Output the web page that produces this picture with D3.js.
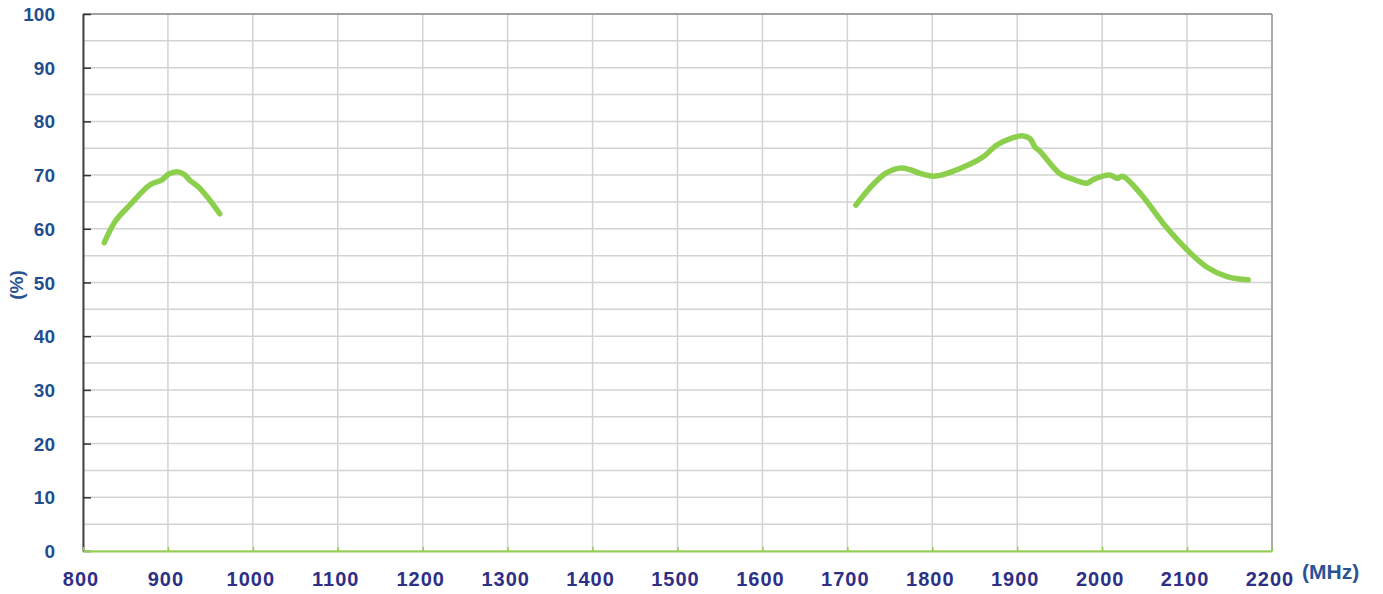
<!DOCTYPE html>
<html lang="en">
  <head>
    <meta charset="UTF-8" />
    <title>Efficiency (%) vs Frequency (MHz)</title>
    <style>
      body { margin: 0; background: #fff; }
      svg { display: block; font-family: "Liberation Sans", Arial, sans-serif; }
    </style>
  </head>
  <body>
    <svg id="chart" width="1383" height="594"></svg>

    <script src="https://d3js.org/d3.v7.min.js"></script>
    <script>
      // low band (MHz, %)
      const lowFreq = [825, 838, 855, 879, 893, 901, 912, 920, 926, 936, 948, 961];
      const lowEff = [57.4, 61.4, 64.4, 68.2, 69.1, 70.2, 70.6, 70.0, 69.0, 67.8, 65.6, 62.8];

      // high band (MHz, %)
      const highFreq = [1710, 1730, 1746, 1762, 1774, 1786, 1801, 1817, 1844, 1860, 1876, 1892,
        1907, 1915, 1921, 1927, 1950, 1966, 1982, 1990, 2009, 2018, 2024, 2045, 2072, 2100,
        2123, 2147, 2172];
      const highEff = [64.4, 68.2, 70.4, 71.3, 71.0, 70.3, 69.8, 70.3, 72.0, 73.4, 75.6, 76.8,
        77.3, 76.8, 75.2, 74.4, 70.3, 69.2, 68.5, 69.2, 70.0, 69.4, 69.8, 66.6, 61.0, 56.1,
        52.9, 51.1, 50.5];

      const xTicks = d3.range(800, 2201, 100);
      const yTicks = d3.range(0, 101, 10);
      const yGrid = d3.range(0, 101, 5);

      const svg = d3.select("#chart");
      const plot = { left: 83, right: 1272, top: 14, bottom: 551 };

      const x = d3.scaleLinear().domain([800, 2200]).range([plot.left, plot.right]);
      const y = d3.scaleLinear().domain([0, 100]).range([plot.bottom, plot.top]);

      // grid
      svg.append("g")
        .selectAll("line")
        .data(yGrid)
        .join("line")
        .attr("x1", plot.left).attr("x2", plot.right)
        .attr("y1", (d) => y(d)).attr("y2", (d) => y(d))
        .attr("stroke", "#d3d3d3")
        .attr("stroke-width", 1.5);

      svg.append("g")
        .selectAll("line")
        .data(xTicks)
        .join("line")
        .attr("x1", (d) => x(d)).attr("x2", (d) => x(d))
        .attr("y1", plot.top).attr("y2", plot.bottom)
        .attr("stroke", "#d3d3d3")
        .attr("stroke-width", 1.5);

      // frame
      svg.append("line")
        .attr("x1", plot.left).attr("x2", plot.right).attr("y1", plot.top).attr("y2", plot.top)
        .attr("stroke", "#8c8c8c").attr("stroke-width", 1.5);
      svg.append("line")
        .attr("x1", plot.right).attr("x2", plot.right).attr("y1", plot.top).attr("y2", plot.bottom)
        .attr("stroke", "#9a9a9a").attr("stroke-width", 1.5);

      // y axis
      const yAxis = svg.append("g")
        .attr("transform", `translate(${plot.left},0)`)
        .call(d3.axisRight(y).tickValues(yTicks).tickSize(8).tickSizeOuter(0).tickFormat(""));
      yAxis.select(".domain").attr("stroke", "#444").attr("stroke-width", 2);
      yAxis.selectAll(".tick line").attr("stroke", "#333").attr("stroke-width", 1.5);

      svg.append("g")
        .selectAll("text")
        .data(yTicks)
        .join("text")
        .attr("x", 55)
        .attr("y", (d) => y(d) + 7)
        .attr("text-anchor", "end")
        .attr("font-size", 19)
        .attr("font-weight", "bold")
        .attr("fill", "#1f4f8f")
        .text((d) => d);

      // x axis
      const xAxis = svg.append("g")
        .attr("transform", `translate(0,${plot.bottom})`)
        .call(d3.axisTop(x).tickValues(xTicks).tickSize(4).tickSizeOuter(0).tickFormat(""));
      xAxis.select(".domain").attr("stroke", "#92d050").attr("stroke-width", 2);
      xAxis.selectAll(".tick line").attr("stroke", "#92d050").attr("stroke-width", 1.5);

      svg.append("g")
        .selectAll("text")
        .data(xTicks)
        .join("text")
        .attr("x", (d) => x(d) - 2)
        .attr("y", 586)
        .attr("text-anchor", "middle")
        .attr("font-size", 20)
        .attr("font-weight", "bold")
        .attr("letter-spacing", 1)
        .attr("fill", "#2e2f86")
        .text((d) => d);

      // axis titles
      svg.append("text")
        .attr("x", 1302).attr("y", 579)
        .attr("font-size", 21).attr("font-weight", "bold")
        .attr("fill", "#2a5394")
        .text("(MHz)");

      svg.append("text")
        .attr("transform", "translate(23,285) rotate(-90)")
        .attr("text-anchor", "middle")
        .attr("font-size", 19).attr("font-weight", "bold")
        .attr("fill", "#2a5394")
        .text("(%)");

      // curves
      const line = d3.line()
        .x((d) => x(d[0]))
        .y((d) => y(d[1]))
        .curve(d3.curveCatmullRom.alpha(0.5));

      const bands = [d3.zip(lowFreq, lowEff), d3.zip(highFreq, highEff)];
      svg.append("g")
        .selectAll("path")
        .data(bands)
        .join("path")
        .attr("d", line)
        .attr("fill", "none")
        .attr("stroke", "#8ccf4d")
        .attr("stroke-width", 5.5)
        .attr("stroke-linecap", "round")
        .attr("stroke-linejoin", "round");
    </script>
  </body>
</html>
